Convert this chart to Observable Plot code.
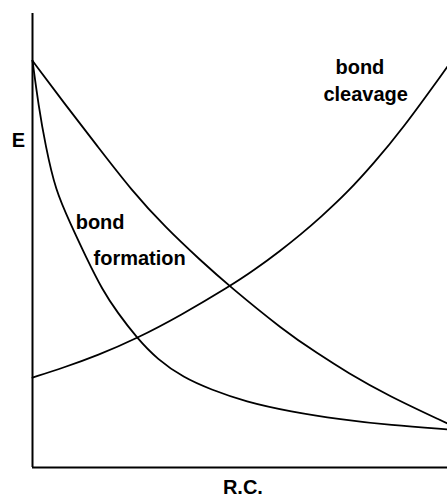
<!DOCTYPE html>
<html>
<head>
<meta charset="utf-8">
<script src="https://cdn.jsdelivr.net/npm/d3@7"></script>
<script src="https://cdn.jsdelivr.net/npm/@observablehq/plot@0.6"></script>
<style>
  html, body { margin: 0; padding: 0; background: #fff; }
  #chart svg { display: block; }
</style>
</head>
<body>
<div id="chart"></div>
<script>
// Reaction coordinate (0–100) and energy (0–100)
const cleavageRC = [0, 7.5, 15.7, 25.1, 35.7, 47.5, 53.3, 59.8, 64.6, 69.4, 75.9, 82.2, 88.7, 100];
const cleavageE  = [19.8, 22.0, 24.7, 28.4, 33.5, 39.9, 43.4, 47.8, 51.3, 55.1, 60.6, 67.0, 74.0, 88.3];

const middleRC = [0, 7.5, 15.7, 23.9, 32.0, 40.5, 47.5, 60.5, 68.7, 75.9, 85.5, 100];
const middleE  = [89.6, 80.4, 70.7, 61.0, 52.9, 45.6, 39.9, 30.2, 25.1, 20.9, 15.9, 9.7];

const formationRC = [0, 1.45, 3.13, 5.54, 9.16, 12.8, 16.9, 20.5, 25.1, 30.1, 36.4, 42.9, 51.3, 62.2, 74.2, 86.3, 100];
const formationE  = [89.6, 79.7, 70.9, 61.0, 53.7, 46.5, 39.0, 34.1, 28.6, 23.8, 19.8, 17.2, 14.5, 12.3, 10.6, 9.3, 8.4];

const labelTexts = ["bond", "cleavage", "bond", "formation"];
const labelRC    = [73.0, 70.1, 10.4, 14.7];
const labelE     = [88.1, 82.2, 54.0, 46.0];

const yAxisLabel = "E";
const xAxisLabel = "R.C.";

const toPoints = (xs, ys) => xs.map((x, i) => ({x, y: ys[i]}));
const curves = [
  toPoints(cleavageRC, cleavageE),
  toPoints(middleRC, middleE),
  toPoints(formationRC, formationE)
];
const labels = labelTexts.map((t, i) => ({t, x: labelRC[i], y: labelE[i]}));

const font = "'Liberation Sans', Arial, Helvetica, sans-serif";

const chart = Plot.plot({
  width: 447,
  height: 498,
  marginLeft: 32,
  marginRight: 0,
  marginTop: 13,
  marginBottom: 31,
  x: {domain: [0, 100], axis: null},
  y: {domain: [0, 100], axis: null},
  style: {fontFamily: font, background: "#fff"},
  marks: [
    Plot.ruleX([0], {stroke: "#000", strokeWidth: 2}),
    Plot.ruleY([0], {stroke: "#000", strokeWidth: 2}),
    ...curves.map(c => Plot.line(c, {x: "x", y: "y", curve: "basis", stroke: "#000", strokeWidth: 1.8})),
    Plot.text(labels, {x: "x", y: "y", text: "t", textAnchor: "start", fontSize: 20, fontWeight: "bold", fill: "#000"}),
    Plot.text([yAxisLabel], {x: -3.4, y: 72.0, text: d => d, fontSize: 20, fontWeight: "bold", fill: "#000", clip: false}),
    Plot.text([xAxisLabel], {x: 50.7, y: -4.5, text: d => d, fontSize: 20, fontWeight: "bold", fill: "#000", clip: false})
  ]
});
document.getElementById("chart").appendChild(chart);
</script>
</body>
</html>
